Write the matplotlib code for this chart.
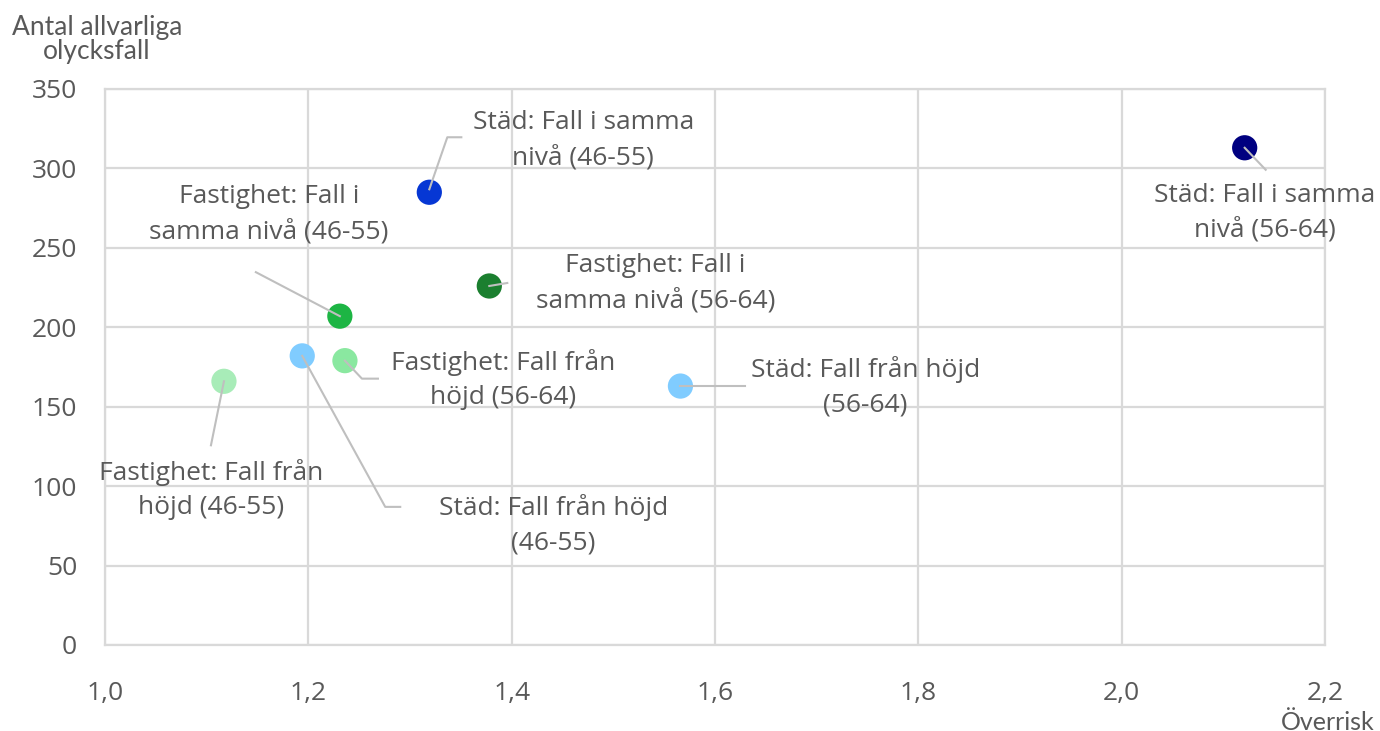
import numpy as np
import matplotlib.pyplot as plt
from matplotlib.lines import Line2D
from matplotlib.transforms import IdentityTransform

# data
labels = [
    "Städ: Fall i samma\nnivå (46-55)",
    "Städ: Fall i samma\nnivå (56-64)",
    "Fastighet: Fall i\nsamma nivå (56-64)",
    "Fastighet: Fall i\nsamma nivå (46-55)",
    "Städ: Fall från höjd\n(46-55)",
    "Fastighet: Fall från\nhöjd (56-64)",
    "Fastighet: Fall från\nhöjd (46-55)",
    "Städ: Fall från höjd\n(56-64)",
]
overrisk = [1.319, 2.121, 1.378, 1.231, 1.194, 1.236, 1.117, 1.566]
olycksfall = [285, 313, 226, 207, 182, 179, 166, 163]
colors = ["#0637d4", "#000080", "#1b7f2f", "#1db544", "#80ccff", "#8ae8a0", "#a8ecb8", "#80ccff"]

x_ticks = [1.0, 1.2, 1.4, 1.6, 1.8, 2.0, 2.2]
y_ticks = [0, 50, 100, 150, 200, 250, 300, 350]

# label placement in pixels relative to each point (x right, y down)
label_offsets = [(154, -52), (20, 65), (166, -3), (-71, -102), (251, 169), (158, 19), (-13, 108), (185, 1)]
# leader line polylines, pixels relative to each point (x right, y down)
leaders = [
    [(0, -3), (18, -55), (32, -55)],
    [(0, 0), (21, 22)],
    [(0, 0), (18, -3)],
    [(0, 0), (-84, -44)],
    [(0, 0), (83, 151), (98, 151)],
    [(0, 0), (17, 18), (33, 18)],
    [(0, 0), (-13, 64)],
    [(0, 0), (65, 0)],
]

text_col = "#595959"
grid_col = "#d9d9d9"

fig = plt.figure(figsize=(13.8, 7.31), dpi=100)
ax = fig.add_axes([105 / 1380, 86 / 731, 1220 / 1380, 556 / 731])

ax.set_xlim(1.0, 2.2)
ax.set_ylim(0, 350)
ax.set_xticks(x_ticks)
ax.set_yticks(y_ticks)
ax.set_xticklabels([f"{v:.1f}".replace(".", ",") for v in x_ticks])
ax.set_yticklabels([str(v) for v in y_ticks])
ax.grid(True, color=grid_col, linewidth=1.6, zorder=0)
ax.set_axisbelow(True)
for s in ax.spines.values():
    s.set_color(grid_col)
    s.set_linewidth(1.6)
ax.tick_params(length=0, colors=text_col, labelsize=19)
for t in ax.get_xticklabels() + ax.get_yticklabels():
    t.set_family("Open Sans")
ax.tick_params(axis="x", pad=26)
ax.tick_params(axis="y", pad=20)

ax.scatter(overrisk, olycksfall, s=330, c=colors, edgecolors="none", zorder=3)

for i in range(len(labels)):
    px, py = ax.transData.transform((overrisk[i], olycksfall[i]))
    xs = [px + dx for dx, dy in leaders[i]]
    ys = [py - dy for dx, dy in leaders[i]]
    fig.add_artist(Line2D(xs, ys, transform=IdentityTransform(), color="#bfbfbf", linewidth=1.5, zorder=4))
    dx, dy = label_offsets[i]
    ax.annotate(labels[i], (overrisk[i], olycksfall[i]), xytext=(dx, -dy), textcoords="offset pixels",
                ha="center", va="center", fontsize=19, color=text_col, family="Open Sans",
                linespacing=1.5, zorder=5)

fig.text(97 / 1380, 1 - 40 / 731, "Antal allvarliga\nolycksfall", ha="center", va="center",
         fontsize=19, color=text_col, family="Lato", linespacing=0.95)
fig.text(1375 / 1380, 1 - 722 / 731, "Överrisk", ha="right", va="center",
         fontsize=18, color=text_col, family="Lato")

fig.savefig("out.png", dpi=100)
